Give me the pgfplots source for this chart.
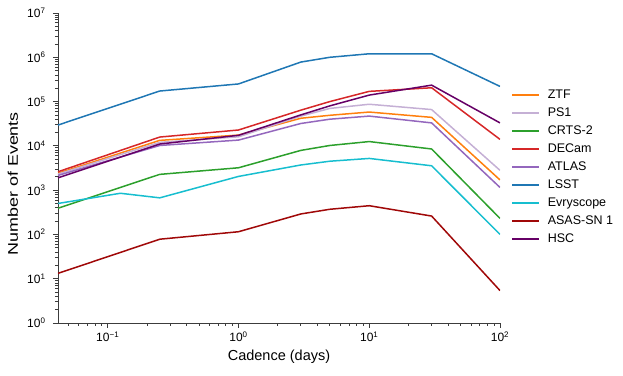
\documentclass[border=0pt]{standalone}
\usepackage{fontspec}
\setmainfont{Liberation Sans}
\usepackage{graphicx}
\usepackage{pgfplots}
\pgfplotsset{compat=1.18}

\definecolor{cztf}{RGB}{255,127,14}
\definecolor{cps}{RGB}{197,176,213}
\definecolor{ccrts}{RGB}{44,160,44}
\definecolor{cdecam}{RGB}{214,39,40}
\definecolor{catlas}{RGB}{148,103,189}
\definecolor{clsst}{RGB}{31,119,180}
\definecolor{cevry}{RGB}{23,190,207}
\definecolor{casas}{RGB}{160,8,8}
\definecolor{chsc}{RGB}{102,0,102}
\definecolor{spine}{RGB}{60,60,60}

\begin{document}
\begin{tikzpicture}
\begin{axis}[
    scale only axis,
    width=442pt, height=310pt,
    xmode=log, ymode=log,
    log basis x=10, log basis y=10,
    xmin=0.0416667, xmax=100,
    ymin=1, ymax=1e7,
    axis x line*=bottom, axis y line*=left,
    axis line style={spine, line width=0.9pt},
    tick style={spine, line width=0.8pt},
    tick align=outside,
    major tick length=5pt, minor tick length=3pt,
    xtick={0.1,1,10,100},
    xticklabels={10\textsuperscript{−1},10\textsuperscript{0},10\textsuperscript{1},10\textsuperscript{2}},
    minor xtick={0.05,0.06,0.07,0.08,0.09,0.2,0.3,0.4,0.5,0.6,0.7,0.8,0.9,2,3,4,5,6,7,8,9,20,30,40,50,60,70,80,90},
    ytick={1,10,100,1000,10000,100000,1000000,10000000},
    yticklabels={10\textsuperscript{0},10\textsuperscript{1},10\textsuperscript{2},10\textsuperscript{3},10\textsuperscript{4},10\textsuperscript{5},10\textsuperscript{6},10\textsuperscript{7}},
    minor ytick={2,3,4,5,6,7,8,9,20,30,40,50,60,70,80,90,200,300,400,500,600,700,800,900,2000,3000,4000,5000,6000,7000,8000,9000,20000,30000,40000,50000,60000,70000,80000,90000,200000,300000,400000,500000,600000,700000,800000,900000,2000000,3000000,4000000,5000000,6000000,7000000,8000000,9000000},
    ticklabel style={font=\fontsize{12}{14}\selectfont},
    yticklabel style={xshift=-4pt},
    xlabel={Cadence (days)},
    ylabel={\scalebox{1.28}[1]{Number of Events}},
    xlabel style={font=\fontsize{14.5}{16}\selectfont, at={(axis description cs:0.5,-0.11)}, anchor=center},
    ylabel style={font=\fontsize{14}{16}\selectfont, at={(axis description cs:-0.102,0.449)}, anchor=center},
    legend cell align=left,
    legend style={draw=none, fill=none, at={(rel axis cs:1.018,0.765)}, anchor=north west,
        font=\fontsize{12.5}{14.5}\selectfont, row sep=3.8pt},
    legend image code/.code={\draw[#1, line width=1.8pt] (0pt,0pt) -- (27pt,0pt); \path (33pt,0pt);},
    every axis plot/.append style={line width=1.5pt, line join=round},
]

\addplot[cztf] coordinates {(0.0416667,2400)(0.25,13300)(1,17500)(3,42000)(5,49000)(10,58000)(30,44000)(100,1700)};
\addlegendentry{ZTF}
\addplot[cps] coordinates {(0.0416667,2300)(0.25,12000)(1,16000)(3,47000)(5,70000)(10,87000)(30,66000)(100,2800)};
\addlegendentry{PS1}
\addplot[ccrts] coordinates {(0.0416667,390)(0.25,2270)(1,3200)(3,7900)(5,10200)(10,12500)(30,8500)(100,230)};
\addlegendentry{CRTS-2}
\addplot[cdecam] coordinates {(0.0416667,2600)(0.25,15800)(1,22800)(3,64000)(5,100000)(10,170000)(30,205000)(100,14000)};
\addlegendentry{DECam}
\addplot[catlas] coordinates {(0.0416667,2150)(0.25,10200)(1,13500)(3,32000)(5,40000)(10,47000)(30,33000)(100,1150)};
\addlegendentry{ATLAS}
\addplot[clsst] coordinates {(0.0416667,29500)(0.25,173000)(1,250000)(3,780000)(5,1000000)(10,1200000)(30,1200000)(100,220000)};
\addlegendentry{LSST}
\addplot[cevry] coordinates {(0.0416667,500)(0.125,850)(0.25,670)(1,2040)(3,3700)(5,4500)(10,5200)(30,3550)(100,100)};
\addlegendentry{Evryscope}
\addplot[casas] coordinates {(0.0416667,13.2)(0.25,78)(1,115)(3,290)(5,370)(10,445)(30,260)(100,5.4)};
\addlegendentry{ASAS-SN 1}
\addplot[chsc] coordinates {(0.0416667,1900)(0.25,11000)(1,17300)(3,50000)(5,80000)(10,140000)(30,235000)(100,33000)};
\addlegendentry{HSC}

\end{axis}
\pgfresetboundingbox
\useasboundingbox (current axis.south west) ++(-58pt,-52pt) rectangle ++(623pt,375pt);
\end{tikzpicture}
\end{document}
